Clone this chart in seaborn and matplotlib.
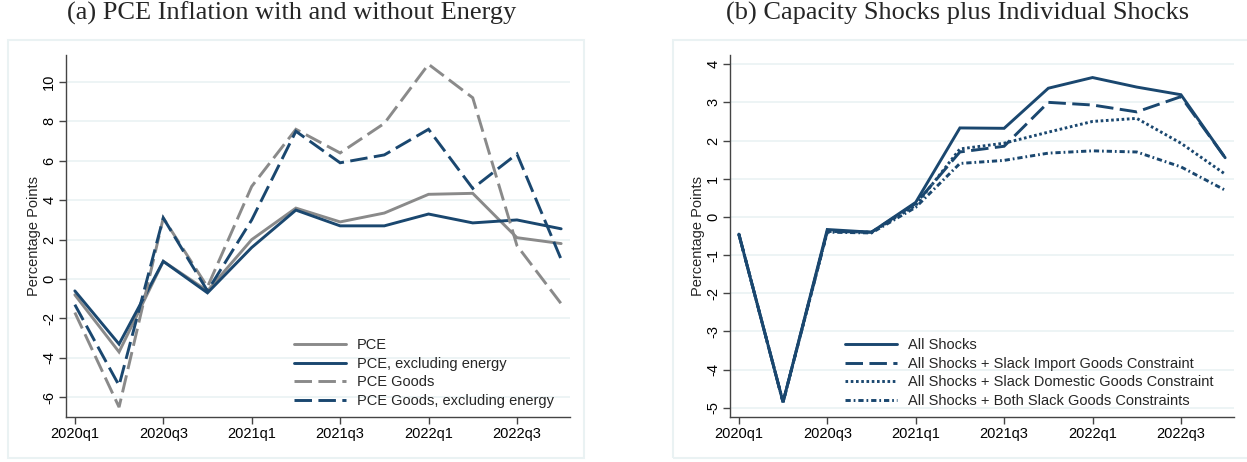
import numpy as np
import pandas as pd
import matplotlib
matplotlib.use("Agg")
import matplotlib.pyplot as plt
import seaborn as sns
from matplotlib.patches import Rectangle

sns.set_theme(style="white")
plt.rcParams['font.family'] = ['Liberation Sans', 'DejaVu Sans']

# quarterly data, 2020q1 .. 2022q4
quarters = ["2020q1", "2020q2", "2020q3", "2020q4", "2021q1", "2021q2",
            "2021q3", "2021q4", "2022q1", "2022q2", "2022q3", "2022q4"]
tick_labels = ["2020q1", "2020q3", "2021q1", "2021q3", "2022q1", "2022q3"]

# panel (a)
pce = [-0.8, -3.7, 0.9, -0.6, 2.0, 3.6, 2.9, 3.35, 4.3, 4.35, 2.1, 1.8]
pce_ex_energy = [-0.6, -3.3, 0.9, -0.7, 1.6, 3.5, 2.7, 2.7, 3.3, 2.85, 3.0, 2.55]
pce_goods = [-1.7, -6.5, 3.1, -0.4, 4.7, 7.6, 6.4, 7.9, 10.9, 9.2, 1.7, -1.25]
pce_goods_ex_energy = [-1.3, -5.4, 3.1, -0.6, 3.0, 7.5, 5.9, 6.3, 7.6, 4.6, 6.35, 1.0]

# panel (b)
all_shocks = [-0.45, -4.85, -0.33, -0.4, 0.38, 2.33, 2.32, 3.37, 3.65, 3.4, 3.2, 1.55]
slack_import = [-0.45, -4.85, -0.38, -0.4, 0.35, 1.7, 1.85, 3.0, 2.93, 2.75, 3.15, 1.55]
slack_domestic = [-0.45, -4.85, -0.38, -0.4, 0.3, 1.78, 1.93, 2.22, 2.5, 2.58, 1.93, 1.12]
slack_both = [-0.45, -4.85, -0.4, -0.42, 0.25, 1.4, 1.48, 1.67, 1.73, 1.7, 1.31, 0.7]

NAVY = "#1a476f"
GRAY = "#8a8a8a"
GRID = "#eaf2f3"
W, H = 1247, 462

fig = plt.figure(figsize=(W / 100, H / 100), dpi=100)

# light panel frames, stata style
for x0 in (8, 673):
    fig.patches.append(Rectangle((x0 / W, 4 / H), 576 / W, 418 / H,
                                 transform=fig.transFigure, fill=False,
                                 edgecolor=GRID, lw=1.5))

fig.text(292 / W, 1 - 13 / H, "(a) PCE Inflation with and without Energy",
         ha="center", va="center", fontsize=19, family="Liberation Serif")
fig.text(958 / W, 1 - 13 / H, "(b) Capacity Shocks plus Individual Shocks",
         ha="center", va="center", fontsize=19, family="Liberation Serif")

ax1 = fig.add_axes([66 / W, 1 - 417 / H, 504 / W, 362 / H])
ax2 = fig.add_axes([730 / W, 1 - 417 / H, 504 / W, 362 / H])

x = np.arange(len(quarters))
dash = (6, 2.2)

series_a = [
    ("PCE", pce, GRAY, ""),
    ("PCE, excluding energy", pce_ex_energy, NAVY, ""),
    ("PCE Goods", pce_goods, GRAY, dash),
    ("PCE Goods, excluding energy", pce_goods_ex_energy, NAVY, dash),
]
series_b = [
    ("All Shocks", all_shocks, NAVY, ""),
    ("All Shocks + Slack Import Goods Constraint", slack_import, NAVY, dash),
    ("All Shocks + Slack Domestic Goods Constraint", slack_domestic, NAVY, (0.9, 0.9)),
    ("All Shocks + Both Slack Goods Constraints", slack_both, NAVY, (1.8, 1.0, 0.6, 1.0)),
]


def draw(ax, series):
    for label, vals, color, ls in series:
        sns.lineplot(x=x, y=vals, ax=ax, color=color, lw=2.1, label=label)
        ln = ax.lines[-1]
        if ls:
            ln.set_dashes(ls)
        ln.set_solid_joinstyle("miter")
        ln.set_dash_joinstyle("miter")


def style(ax, ylim, yticks):
    ax.set_xlim(-0.2, 11.2)
    ax.set_ylim(*ylim)
    ax.set_yticks(yticks)
    ax.set_yticklabels([str(t) for t in yticks], rotation=90, va="center")
    ax.set_xticks([0, 2, 4, 6, 8, 10])
    ax.set_xticklabels(tick_labels)
    ax.grid(axis="y", color=GRID, lw=1.2)
    ax.grid(axis="x", visible=False)
    ax.set_axisbelow(True)
    for s in ("top", "right"):
        ax.spines[s].set_visible(False)
    for s in ("left", "bottom"):
        ax.spines[s].set_color("#444444")
        ax.spines[s].set_linewidth(1.0)
    ax.tick_params(axis="both", direction="out", length=5, width=1,
                   color="#444444", labelsize=10.5, labelcolor="black",
                   left=True, bottom=True, pad=2)
    ax.set_xlabel("")
    ax.set_ylabel("Percentage Points", fontsize=10.5)
    ax.yaxis.set_label_coords(-0.05, 0.5)


draw(ax1, series_a)
style(ax1, (-7.0, 11.37), [-6, -4, -2, 0, 2, 4, 6, 8, 10])
ax1.legend(loc="lower left", bbox_to_anchor=(0.452, 0.025), frameon=False,
           fontsize=10.5, handlelength=3.6, handletextpad=0.7,
           labelspacing=0.32, borderpad=0, borderaxespad=0)

draw(ax2, series_b)
style(ax2, (-5.24, 4.24), [-5, -4, -3, -2, -1, 0, 1, 2, 3, 4])
ax2.legend(loc="lower left", bbox_to_anchor=(0.228, 0.025), frameon=False,
           fontsize=10.5, handlelength=3.6, handletextpad=0.7,
           labelspacing=0.32, borderpad=0, borderaxespad=0)

fig.savefig("out.png", dpi=100)
